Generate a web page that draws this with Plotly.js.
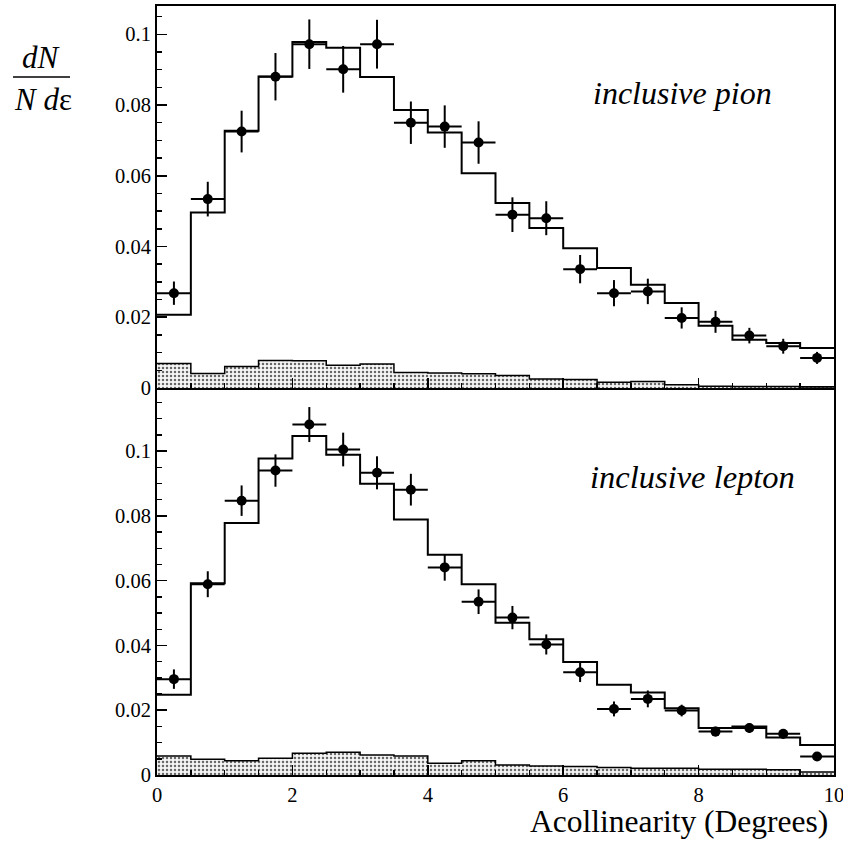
<!DOCTYPE html>
<html>
<head>
<meta charset="utf-8">
<script src="https://cdn.plot.ly/plotly-3.0.1.min.js"></script>
<style>html,body{margin:0;padding:0;background:#fff;}</style>
</head>
<body>
<div id="chart" style="width:843px;height:844px;"></div>
<script>
// Bin edges (degrees)
const edges = [0,0.5,1,1.5,2,2.5,3,3.5,4,4.5,5,5.5,6,6.5,7,7.5,8,8.5,9,9.5,10];

// Inclusive pion panel
const pionMC = [0.0207,0.0496,0.0727,0.0881,0.0978,0.0962,0.0879,0.0786,0.0722,0.0607,
                0.0523,0.0452,0.0395,0.0339,0.0292,0.0240,0.0176,0.0136,0.0127,0.0113];
const pionBkg = [0.0069,0.0041,0.0061,0.0078,0.0077,0.0064,0.0068,0.0044,0.0042,0.0040,
                 0.0035,0.0025,0.0024,0.0016,0.0018,0.0009,0.0005,0.0004,0.0004,0.0003];
const pionData = [0.0268,0.0534,0.0725,0.0880,0.0972,0.0901,0.0972,0.0750,0.0739,0.0694,
                  0.0490,0.0480,0.0336,0.0268,0.0273,0.0198,0.0187,0.0148,0.0118,0.0085];
const pionErr = [0.0033,0.0049,0.0059,0.0067,0.0070,0.0066,0.0069,0.0060,0.0060,0.0060,
                 0.0049,0.0048,0.0040,0.0037,0.0036,0.0030,0.0031,0.0022,0.0021,0.0017];

// Inclusive lepton panel
const leptonMC = [0.0248,0.0592,0.0778,0.0977,0.1047,0.0989,0.0899,0.0789,0.0680,0.0589,
                  0.0470,0.0419,0.0349,0.0279,0.0255,0.0206,0.0145,0.0150,0.0116,0.0093];
const leptonBkg = [0.0059,0.0049,0.0044,0.0052,0.0067,0.0070,0.0062,0.0059,0.0036,0.0044,
                   0.0031,0.0028,0.0026,0.0023,0.0021,0.0021,0.0018,0.0018,0.0016,0.0009];
const leptonData = [0.0296,0.0589,0.0847,0.0940,0.1082,0.1005,0.0933,0.0881,0.0641,0.0535,
                    0.0486,0.0403,0.0317,0.0204,0.0235,0.0199,0.0134,0.0145,0.0127,0.0057];
const leptonErr = [0.0030,0.0040,0.0047,0.0050,0.0054,0.0052,0.0051,0.0049,0.0041,0.0038,
                   0.0036,0.0031,0.0030,0.0023,0.0026,0.0018,0.0015,0.0015,0.0015,0.0012];

const centers = edges.slice(0, -1).map((e, i) => (e + edges[i + 1]) / 2);
const halfWidths = edges.slice(0, -1).map((e, i) => (edges[i + 1] - e) / 2);
const stepY = v => v.concat([v[v.length - 1]]);

const FONT = '"Liberation Serif", "Times New Roman", Times, serif';

function panel(mc, bkg, data, err, xa, ya) {
  return [
    {x: edges, y: stepY(bkg), type: 'scatter', mode: 'lines', line: {shape: 'hv', color: '#000', width: 1.5},
     fill: 'tozeroy', fillcolor: '#e0e0e0',
     fillpattern: {shape: '.', size: 4, solidity: 0.3, fgcolor: '#666', bgcolor: '#f6f6f6'},
     xaxis: xa, yaxis: ya, hoverinfo: 'skip'},
    {x: edges, y: stepY(mc), type: 'scatter', mode: 'lines', line: {shape: 'hv', color: '#000', width: 2},
     xaxis: xa, yaxis: ya},
    {x: centers, y: data, type: 'scatter', mode: 'markers',
     marker: {symbol: 'circle', size: 10, color: '#000'},
     error_y: {type: 'data', array: err, visible: true, color: '#000', thickness: 2, width: 0},
     error_x: {type: 'data', array: halfWidths, visible: true, color: '#000', thickness: 2, width: 0},
     xaxis: xa, yaxis: ya}
  ];
}

const traces = panel(pionMC, pionBkg, pionData, pionErr, 'x2', 'y2')
  .concat(panel(leptonMC, leptonBkg, leptonData, leptonErr, 'x', 'y'));

const axisCommon = {
  showline: true, mirror: true, linecolor: '#000', linewidth: 2,
  ticks: 'inside', ticklen: 10, tickwidth: 1.5, tickcolor: '#000',
  showgrid: false, zeroline: false, ticklabeloverflow: 'allow',
  tickfont: {family: FONT, size: 20.5, color: '#000'}
};

const layout = {
  width: 843, height: 844,
  margin: {l: 157, r: 9, t: 6, b: 69},
  paper_bgcolor: '#fff', plot_bgcolor: '#fff',
  font: {family: FONT, color: '#000'},
  showlegend: false,
  xaxis: Object.assign({}, axisCommon, {domain: [0, 1], range: [0, 10.0001], anchor: 'y', dtick: 2, tick0: 0,
    minor: {dtick: 0.5, ticklen: 5, tickwidth: 1.5, ticks: 'inside', tickcolor: '#000'}}),
  xaxis2: Object.assign({}, axisCommon, {domain: [0, 1], anchor: 'y2', matches: 'x',
    dtick: 2, tick0: 0, showticklabels: false,
    minor: {dtick: 0.5, ticklen: 5, tickwidth: 1.5, ticks: 'inside', tickcolor: '#000'}}),
  yaxis: Object.assign({}, axisCommon, {domain: [0, 0.5033], range: [0, 0.1195], anchor: 'x', dtick: 0.02, tick0: 0,
    minor: {dtick: 0.005, ticklen: 5, tickwidth: 1.5, ticks: 'inside', tickcolor: '#000'}}),
  yaxis2: Object.assign({}, axisCommon, {domain: [0.5033, 1], range: [0, 0.108], anchor: 'x2', dtick: 0.02, tick0: 0,
    minor: {dtick: 0.005, ticklen: 5, tickwidth: 1.5, ticks: 'inside', tickcolor: '#000'}}),
  annotations: [
    {text: '<i>inclusive pion</i>', xref: 'paper', yref: 'paper', x: 0.776, y: 0.8869,
     xanchor: 'center', yanchor: 'middle', showarrow: false, font: {family: FONT, size: 32, color: '#000'}},
    {text: '<i>inclusive lepton</i>', xref: 'paper', yref: 'paper', x: 0.7917, y: 0.3875,
     xanchor: 'center', yanchor: 'middle', showarrow: false, font: {family: FONT, size: 32.5, color: '#000'}},
    {text: 'Acollinearity (Degrees)', xref: 'paper', yref: 'paper', x: 0.994, y: -0.0611,
     xanchor: 'right', yanchor: 'middle', showarrow: false, font: {family: FONT, size: 31.5, color: '#000'}},
    {text: '<i>dN</i>', xref: 'paper', yref: 'paper', x: -0.1713, y: 0.9324,
     xanchor: 'center', yanchor: 'middle', showarrow: false, font: {family: FONT, size: 31, color: '#000'}},
    {text: '<i>N d</i>ε', xref: 'paper', yref: 'paper', x: -0.1684, y: 0.8778,
     xanchor: 'center', yanchor: 'middle', showarrow: false, font: {family: FONT, size: 31, color: '#000'}}
  ],
  shapes: [
    {type: 'line', xref: 'paper', yref: 'paper', x0: -0.2127, x1: -0.1285, y0: 0.9077, y1: 0.9077,
     line: {color: '#000', width: 1.5}}
  ]
};

Plotly.newPlot('chart', traces, layout, {displayModeBar: false, staticPlot: true});
</script>
</body>
</html>
